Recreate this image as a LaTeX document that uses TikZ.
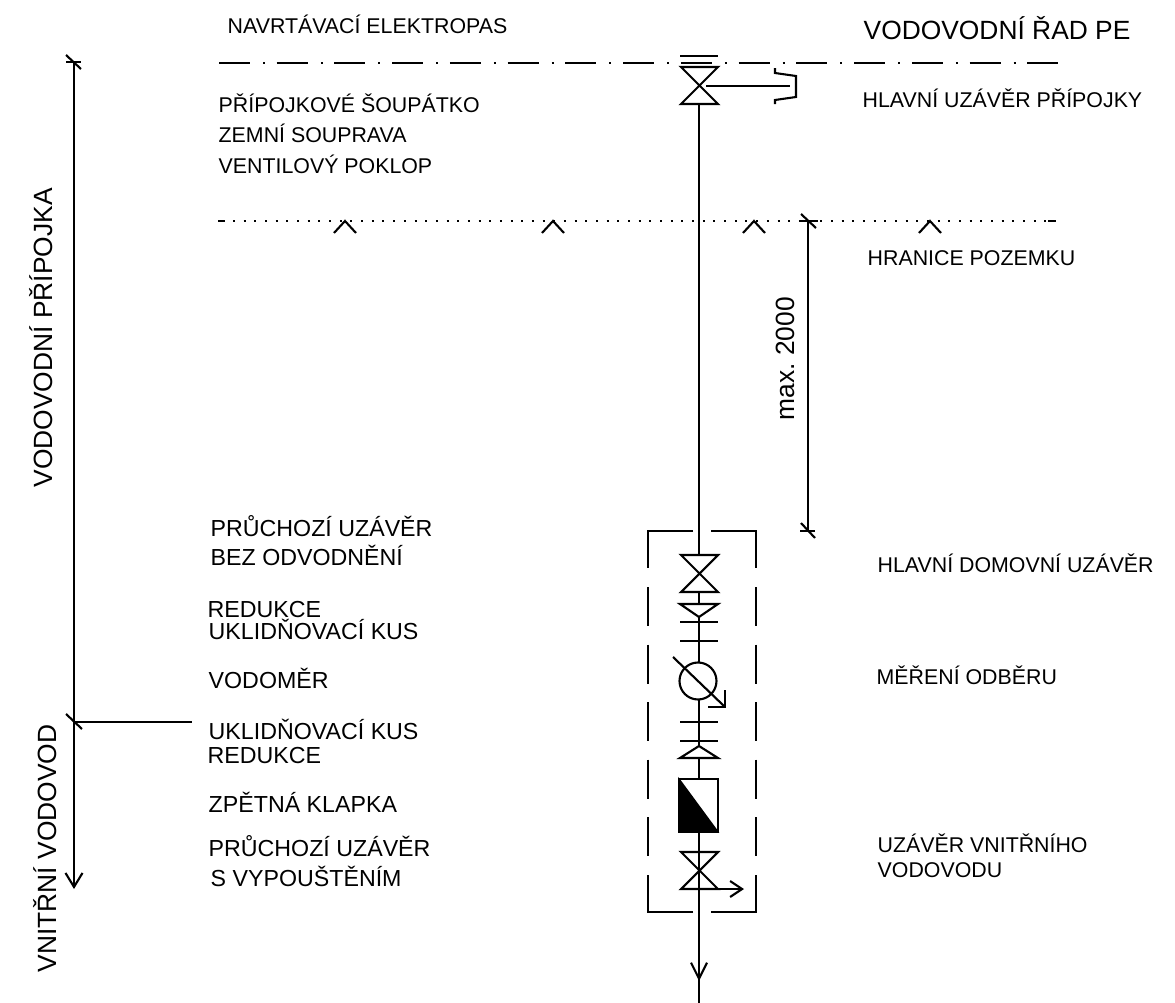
\documentclass[tikz,border=0pt]{standalone}
\usepackage{fontspec}
\setmainfont{Liberation Sans}
\usetikzlibrary{arrows.meta}
\tikzset{
	pipe/.style={line width=0.6pt},
	barb/.style={line width=0.6pt,arrows={-Straight Barb[length=0.14cm,width=0.17cm]}},
	smalllabel/.style={anchor=base west,inner sep=0,font=\fontsize{6.07pt}{7pt}\selectfont},
	midlabel/.style={anchor=base west,inner sep=0,font=\fontsize{6.6pt}{8pt}\selectfont},
	biglabel/.style={anchor=base west,inner sep=0,font=\fontsize{7.5pt}{9pt}\selectfont},
}
\begin{document}
\begin{tikzpicture}[x=0.01cm,y=-0.01cm]
	\useasboundingbox (0,0) rectangle (1175,1003);
	% Main and plot boundary
	\draw [pipe,dash pattern=on 0.31cm off 0.13cm on 0.02cm off 0.117cm] (219,63) -- (1058,63);
	\draw [pipe] (680,56) -- (718,56);
	\draw [pipe,dash pattern=on 0.02cm off 0.0867cm] (233,221) -- (1047,221);
	\draw [pipe] (218,221) -- (225,221);
	\draw [pipe] (1048,221) -- (1056,221);
	\foreach \x in {345,553,754,930}
		\draw [pipe] (\x-11,233) -- (\x,221) -- (\x+11,233);
	% Valves
	\foreach \y in {67,555,852}
		\draw [pipe] (681,\y) -- (718,\y) -- (681,\y+37) -- (718,\y+37) -- cycle;
	\draw [pipe] (706,86) -- (790,86);
	\draw [pipe] (775,68) -- (775,73) -- (796,76) -- (796,97) -- (775,100) -- (775,104);
	\draw [barb,arrows={-Straight Barb[length=0.12cm,width=0.16cm]}] (718,889) -- (744,889);
	% Pipe
	\draw [pipe] (699,104) -- (699,555);
	\draw [pipe] (699,592) -- (699,604);
	\draw [pipe] (699,617) -- (699,663);
	\draw [pipe] (699,699) -- (699,746);
	\draw [pipe] (699,758) -- (699,779);
	\draw [barb,arrows={-Straight Barb[length=0.16cm,width=0.16cm]}] (699,832) -- (699,981);
	\draw [pipe] (699,975) -- (699,1003);
	% Reducers and flanges
	\draw [pipe] (680,604) -- (718,604) -- (699,617) -- cycle;
	\draw [pipe] (680,758) -- (718,758) -- (699,746) -- cycle;
	\foreach \y in {622,641,722,741}
		\draw [pipe] (680,\y) -- (718,\y);
	% Water meter
	\draw [pipe] (698,681) circle [radius=18.5];
	\draw [pipe] (673,657) -- (725,707);
	\draw [pipe] (725,690) -- (725,707) -- (708,707);
	% Check valve
	\draw [pipe] (679,779) rectangle (718,832);
	\draw [fill] (679,779) -- (718,832) -- (679,832) -- cycle;
	% Dashed box
	\draw [pipe] (693,531) -- (648,531) -- (648,568);
	\draw [pipe] (711,531) -- (756,531) -- (756,568);
	\draw [pipe] (693,912) -- (648,912) -- (648,875);
	\draw [pipe] (711,912) -- (756,912) -- (756,875);
	\draw [pipe,dash pattern=on 0.39cm off 0.185cm] (648,587) -- (648,857);
	\draw [pipe,dash pattern=on 0.39cm off 0.185cm] (756,587) -- (756,857);
	% Dimensions
	\draw [barb] (74,62) -- (74,889);
	\draw [pipe] (66,62) -- (81,62);
	\draw [pipe] (66,55) -- (81,69);
	\draw [pipe] (66,714) -- (82,729);
	\draw [pipe] (74,722) -- (192,722);
	\draw [pipe] (808,221) -- (808,531);
	\draw [pipe] (801,221) -- (818,221);
	\draw [pipe] (801,214) -- (816,228);
	\draw [pipe] (800,531) -- (815,531);
	\draw [pipe] (801,523) -- (815,538);
	% Labels
	\node [smalllabel] (elektropas) at (227,33) {NAVRTÁVACÍ ELEKTROPAS};
	\node [biglabel] (rad) at (863,39) {VODOVODNÍ ŘAD PE};
	\node [smalllabel] (soupatko) at (218,113) {PŘÍPOJKOVÉ ŠOUPÁTKO};
	\node [smalllabel] (souprava) at (218,143) {ZEMNÍ SOUPRAVA};
	\node [smalllabel] (poklop) at (218,173) {VENTILOVÝ POKLOP};
	\node [smalllabel] (hlavni) at (862,107) {HLAVNÍ UZÁVĚR PŘÍPOJKY};
	\node [smalllabel] (hranice) at (867,265) {HRANICE POZEMKU};
	\node [biglabel,rotate=90] (max) at (794,421) {max.\ 2000};
	\node [biglabel,rotate=90] (pripojka) at (53,488) {VODOVODNÍ PŘÍPOJKA};
	\node [biglabel,rotate=90] (vnitrni) at (57,973) {VNITŘNÍ VODOVOD};
	\node [midlabel] (pruchozi) at (210,536) {PRŮCHOZÍ UZÁVĚR};
	\node [midlabel] (odvodneni) at (210,565) {BEZ ODVODNĚNÍ};
	\node [midlabel] (redukce) at (207,617) {REDUKCE};
	\node [midlabel] (kus) at (208,639) {UKLIDŇOVACÍ KUS};
	\node [midlabel] (vodomer) at (208,688) {VODOMĚR};
	\node [midlabel] (kusdva) at (208,739) {UKLIDŇOVACÍ KUS};
	\node [midlabel] (redukcedva) at (207,763) {REDUKCE};
	\node [midlabel] (klapka) at (208,812) {ZPĚTNÁ KLAPKA};
	\node [midlabel] (pruchozidva) at (208,856) {PRŮCHOZÍ UZÁVĚR};
	\node [midlabel] (vypousteni) at (210,886) {S VYPOUŠTĚNÍM};
	\node [smalllabel] (domovni) at (877,572) {HLAVNÍ DOMOVNÍ UZÁVĚR};
	\node [smalllabel] (mereni) at (876,684) {MĚŘENÍ ODBĚRU};
	\node [smalllabel] (uzaver) at (877,852) {UZÁVĚR VNITŘNÍHO};
	\node [smalllabel] (vodovodu) at (877,877) {VODOVODU};
\end{tikzpicture}
\end{document}
